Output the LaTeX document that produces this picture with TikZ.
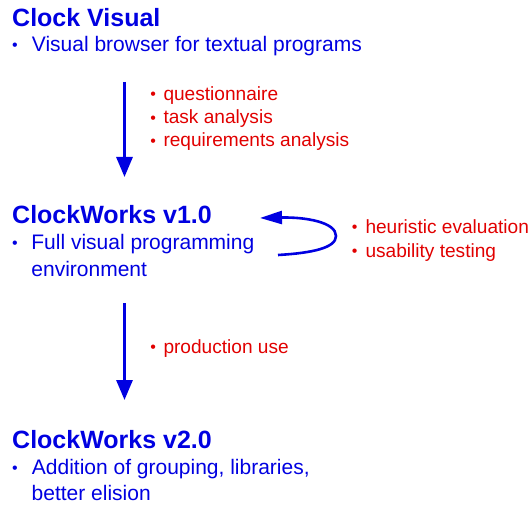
\documentclass[tikz,border=0pt]{standalone}
\usepackage{fontspec}
\setmainfont{Liberation Sans}
\usetikzlibrary{arrows.meta}
\definecolor{bluetxt}{RGB}{0,0,225}
\definecolor{redtxt}{RGB}{225,0,0}
\tikzset{
  title/.style={anchor=base west,inner sep=0pt,text=bluetxt,font=\fontsize{25}{28}\selectfont\bfseries},
  bline/.style={anchor=base west,inner sep=0pt,text=bluetxt,font=\fontsize{21}{24}\selectfont},
  rline/.style={anchor=base west,inner sep=0pt,text=redtxt,font=\fontsize{19.1}{22}\selectfont},
  flow/.style={draw=bluetxt,line width=3pt,-{Triangle[length=20pt,width=16pt]}},
  loopflow/.style={draw=bluetxt,line width=2.6pt,-{Triangle[length=22pt,width=13pt]}}
}
\newcommand{\bul}[2]{\makebox[#1][l]{\hspace{-0.85pt}\raisebox{#2}{\fontsize{16}{16}\selectfont •}}}
\begin{document}
\begin{tikzpicture}[x=1pt,y=-1pt]
\useasboundingbox (0,0) rectangle (532,505);
% Clock Visual
\node[title] (cv) at (12,26.5) {Clock Visual};
\node[bline] (cv1) at (12.7,51.7) {\bul{19pt}{1pt}Visual browser for textual programs};
% arrow 1
\coordinate (a1s) at (124.5,82);
\coordinate (a1e) at (124.5,177);
\draw[flow] (a1s) -- (a1e);
\node[rline] (r1) at (151,100.5) {\bul{12.3pt}{0.6pt}questionnaire};
\node[rline] (r2) at (151,124) {\bul{12.3pt}{0.6pt}task analysis};
\node[rline] (r3) at (151,147) {\bul{12.3pt}{0.6pt}requirements analysis};
% ClockWorks v1.0
\node[title] (cw1) at (12,223.5) {ClockWorks v1.0};
\node[bline] (cw1a) at (12.7,249.5) {\bul{18.5pt}{1pt}Full visual programming};
\node[bline] (cw1b) at (31.2,276) {environment};
% loop arrow
\coordinate (ls) at (278,255);
\coordinate (lm) at (336,236);
\coordinate (le) at (260,218);
\draw[loopflow] (ls) .. controls (312,253) and (336,248) .. (lm)
  .. controls (336,222) and (305,217) .. (le);
\node[rline] (h1) at (352.5,233.5) {\bul{12.8pt}{0.6pt}heuristic evaluation};
\node[rline] (h2) at (352.5,257) {\bul{12.8pt}{0.6pt}usability testing};
% arrow 2
\coordinate (a2s) at (124.5,303);
\coordinate (a2e) at (124.5,400);
\draw[flow] (a2s) -- (a2e);
\node[rline] (p1) at (151,353) {\bul{12.3pt}{0.6pt}production use};
% ClockWorks v2.0
\node[title] (cw2) at (12,448) {ClockWorks v2.0};
\node[bline] (cw2a) at (12.7,474) {\bul{19pt}{1pt}Addition of grouping, libraries,};
\node[bline] (cw2b) at (31.5,500) {better elision};
\end{tikzpicture}
\end{document}
